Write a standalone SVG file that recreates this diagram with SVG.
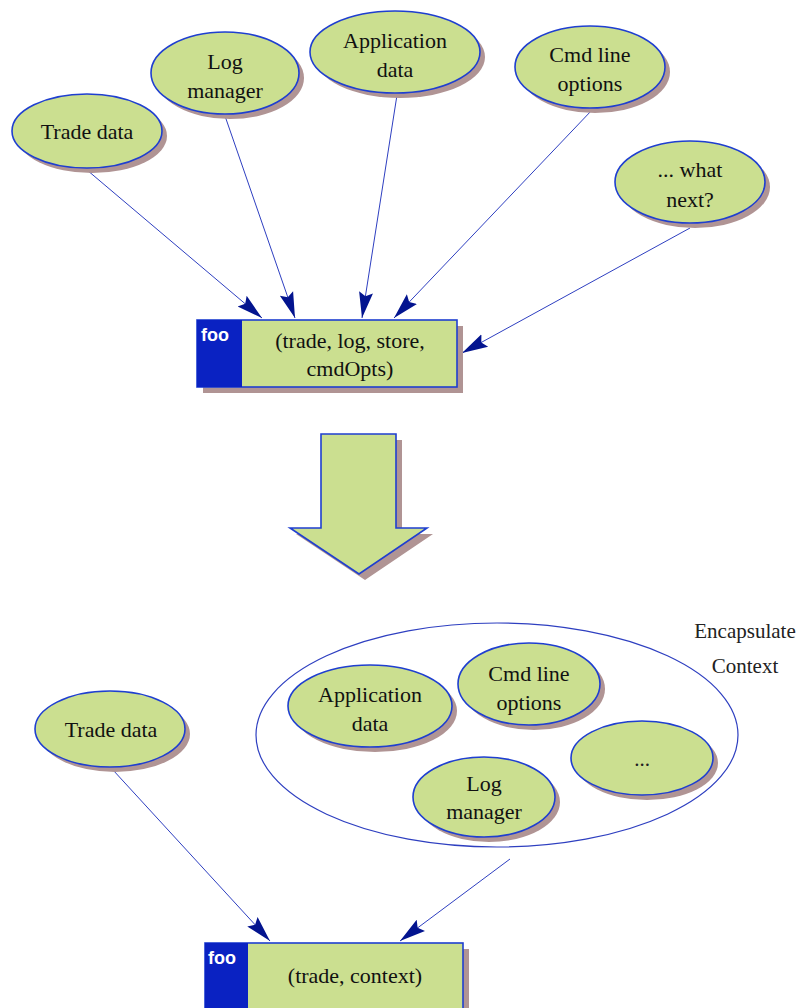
<svg xmlns="http://www.w3.org/2000/svg" width="800" height="1008" viewBox="0 0 800 1008">
<style>
.sh{fill:#b09494}
.node{fill:#cbdf90;stroke:#1f3fd0;stroke-width:1.6}
.t{font-family:"Liberation Serif",serif;font-size:22px;fill:#111;text-anchor:middle}
.lbl{font-family:"Liberation Serif",serif;font-size:21px;fill:#222;text-anchor:middle}
.foo{font-family:"Liberation Sans",Arial,sans-serif;font-size:18px;font-weight:bold;fill:#fff}
.blue{fill:#0a22c2}
.edge{stroke:#2e3fc0;stroke-width:1;fill:none;marker-end:url(#ah)}
</style>
<defs>
<marker id="ah" markerUnits="userSpaceOnUse" markerWidth="28" markerHeight="16" refX="26" refY="8" orient="auto">
<path d="M0,1 L26,8 L0,15 L4,8 z" fill="#03148f"/>
</marker>
</defs>
<rect width="800" height="1008" fill="#fff"/>

<g id="connectors">
<line class="edge" x1="87" y1="170" x2="262" y2="318"/>
<line class="edge" x1="225" y1="116" x2="295" y2="318"/>
<line class="edge" x1="397" y1="95" x2="362" y2="318"/>
<line class="edge" x1="592" y1="110" x2="394" y2="318"/>
<line class="edge" x1="690" y1="228" x2="462" y2="353"/>
<line class="edge" x1="113" y1="770" x2="270" y2="941"/>
<line class="edge" x1="510" y1="859" x2="400" y2="941"/>
</g>

<g id="trade-top">
<ellipse class="sh" cx="92" cy="136" rx="75" ry="37"/>
<ellipse class="node" cx="87" cy="131" rx="75" ry="37"/>
<text class="t" x="87" y="139">Trade data</text>
</g>
<g id="log-top">
<ellipse class="sh" cx="230" cy="78" rx="74" ry="41"/>
<ellipse class="node" cx="225" cy="73" rx="74" ry="41"/>
<text class="t" x="225" y="69">Log</text>
<text class="t" x="225" y="98">manager</text>
</g>
<g id="app-top">
<ellipse class="sh" cx="400" cy="57" rx="85" ry="41"/>
<ellipse class="node" cx="395" cy="52" rx="85" ry="41"/>
<text class="t" x="395" y="48">Application</text>
<text class="t" x="395" y="77">data</text>
</g>
<g id="cmd-top">
<ellipse class="sh" cx="595" cy="72" rx="75" ry="41"/>
<ellipse class="node" cx="590" cy="67" rx="75" ry="41"/>
<text class="t" x="590" y="62">Cmd line</text>
<text class="t" x="590" y="91">options</text>
</g>
<g id="next-top">
<ellipse class="sh" cx="695" cy="187" rx="75" ry="41"/>
<ellipse class="node" cx="690" cy="182" rx="75" ry="41"/>
<text class="t" x="690" y="177">... what</text>
<text class="t" x="690" y="207">next?</text>
</g>

<g id="foo-top">
<rect class="sh" x="203" y="326" width="260" height="67"/>
<rect class="node" x="197" y="320" width="260" height="67"/>
<rect class="blue" x="197" y="320" width="45" height="67"/>
<text class="foo" x="201" y="341">foo</text>
<text class="t" x="350" y="348">(trade, log, store,</text>
<text class="t" x="350" y="376">cmdOpts)</text>
</g>

<g id="big-arrow">
<path class="sh" d="M327,440 L402,440 L402,534 L433,534 L365,580 L296,534 L327,534 z"/>
<path class="node" d="M321,434 L396,434 L396,528 L427,528 L359,574 L290,528 L321,528 z"/>
</g>

<g id="context">
<ellipse cx="497" cy="735" rx="241" ry="112" fill="none" stroke="#2e3fc0" stroke-width="1.2"/>
<text class="lbl" x="745" y="638">Encapsulate</text>
<text class="lbl" x="745" y="673">Context</text>
</g>

<g id="trade-bottom">
<ellipse class="sh" cx="115" cy="734" rx="75" ry="38"/>
<ellipse class="node" cx="110" cy="729" rx="75" ry="38"/>
<text class="t" x="111" y="737">Trade data</text>
</g>
<g id="app-bottom">
<ellipse class="sh" cx="375" cy="711" rx="82" ry="41"/>
<ellipse class="node" cx="370" cy="706" rx="82" ry="41"/>
<text class="t" x="370" y="702">Application</text>
<text class="t" x="370" y="731">data</text>
</g>
<g id="cmd-bottom">
<ellipse class="sh" cx="534" cy="689" rx="71" ry="41"/>
<ellipse class="node" cx="529" cy="684" rx="71" ry="41"/>
<text class="t" x="529" y="681">Cmd line</text>
<text class="t" x="529" y="710">options</text>
</g>
<g id="log-bottom">
<ellipse class="sh" cx="489" cy="802" rx="71" ry="40"/>
<ellipse class="node" cx="484" cy="797" rx="71" ry="40"/>
<text class="t" x="484" y="791">Log</text>
<text class="t" x="484" y="819">manager</text>
</g>
<g id="etc-bottom">
<ellipse class="sh" cx="647" cy="763" rx="71" ry="37"/>
<ellipse class="node" cx="642" cy="758" rx="71" ry="37"/>
<text class="lbl" x="642" y="766">...</text>
</g>

<g id="foo-bottom">
<rect class="sh" x="211" y="949" width="258" height="70"/>
<rect class="node" x="205" y="943" width="258" height="70"/>
<rect class="blue" x="205" y="943" width="43" height="70"/>
<text class="foo" x="208" y="964">foo</text>
<text class="t" x="355" y="983">(trade, context)</text>
</g>
</svg>
